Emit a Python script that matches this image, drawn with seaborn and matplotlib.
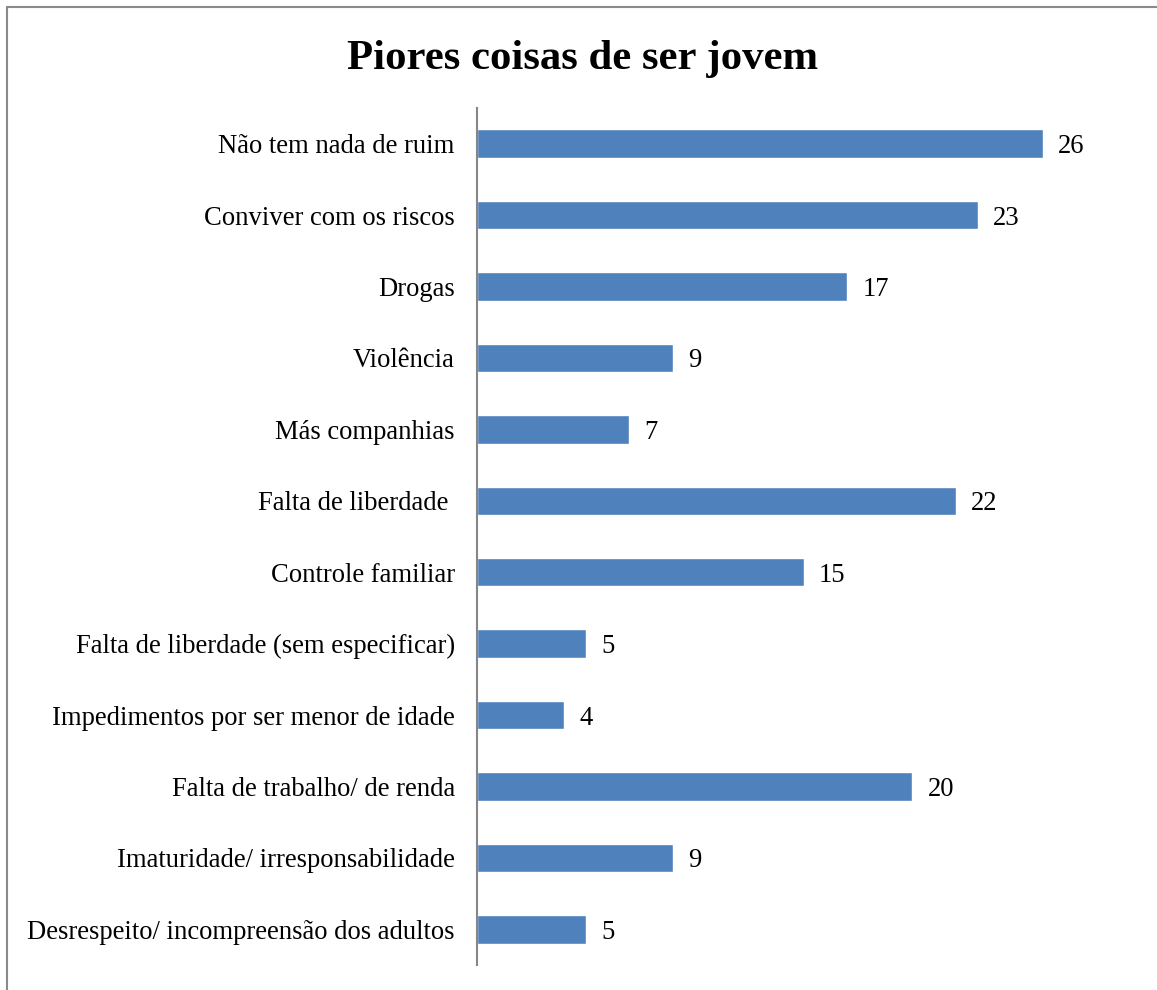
import matplotlib
matplotlib.use("Agg")
import matplotlib.pyplot as plt
import seaborn as sns
import pandas as pd
from matplotlib.lines import Line2D

categories = [
    "Não tem nada de ruim",
    "Conviver com os riscos",
    "Drogas",
    "Violência",
    "Más companhias",
    "Falta de liberdade ",
    "Controle familiar",
    "Falta de liberdade (sem especificar)",
    "Impedimentos por ser menor de idade",
    "Falta de trabalho/ de renda",
    "Imaturidade/ irresponsabilidade",
    "Desrespeito/ incompreensão dos adultos",
]
values = [26, 23, 17, 9, 7, 22, 15, 5, 4, 20, 9, 5]
title = "Piores coisas de ser jovem"

df = pd.DataFrame({"cat": categories, "val": values})

sns.set_theme(style="white")
plt.rcParams["font.family"] = ["Liberation Serif", "DejaVu Serif"]

W, H = 1157, 990
fig = plt.figure(figsize=(W / 100, H / 100), dpi=100)
ax = fig.add_axes([477 / W, 1 - 965 / H, (1130 - 477) / W, (965 - 108) / H])

sns.barplot(data=df, x="val", y="cat", orient="h", color="#4F81BD",
            saturation=1, width=0.40, ax=ax)

ax.set_xlim(0, 30)
ax.set_ylim(len(categories) - 0.5, -0.5)
ax.set_xlabel("")
ax.set_ylabel("")
ax.set_xticks([])
for s in ["top", "right", "bottom"]:
    ax.spines[s].set_visible(False)
ax.spines["left"].set_color("#868686")
ax.spines["left"].set_linewidth(1.5)
ax.tick_params(axis="y", length=0, pad=16, labelsize=19.2, labelcolor="black")
for lbl in ax.get_yticklabels():
    lbl.set_verticalalignment("center_baseline")

for i, v in enumerate(values):
    ax.text(v + 0.7, i, str(v), va="center_baseline", ha="left", fontsize=19.2,
            color="black")

fig.text(583 / W, 1 - 54 / H, title, ha="center", va="center_baseline",
         fontsize=30.8, fontweight="bold", color="black")

fig.add_artist(Line2D([7 / W, 1], [1 - 7 / H, 1 - 7 / H], transform=fig.transFigure,
                      color="#8a8a8a", linewidth=1.5))
fig.add_artist(Line2D([7 / W, 7 / W], [0, 1 - 7 / H], transform=fig.transFigure,
                      color="#8a8a8a", linewidth=1.5))

fig.savefig("out.png", dpi=100, facecolor="white")
